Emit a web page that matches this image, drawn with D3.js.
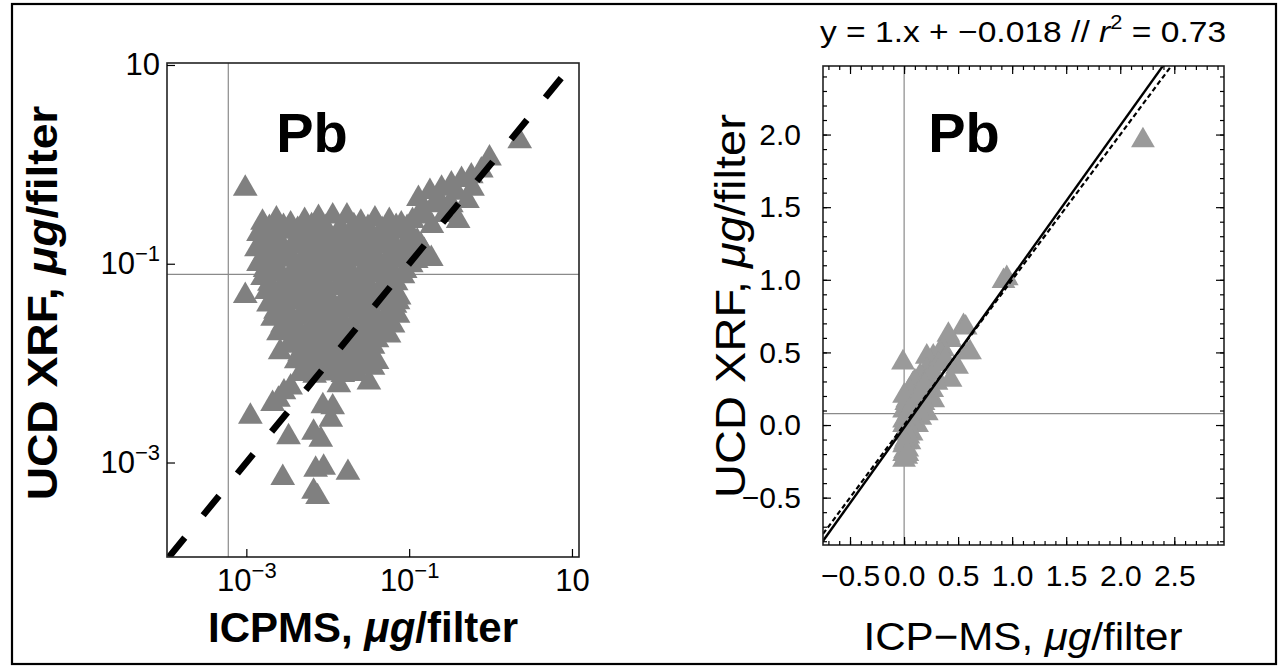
<!DOCTYPE html>
<html><head><meta charset="utf-8">
<script src="https://cdn.jsdelivr.net/npm/d3@7/dist/d3.min.js"></script>
<style>
html,body{margin:0;padding:0;background:#fff;}
text{font-family:"Liberation Sans",Arial,Helvetica,sans-serif;fill:#000;}
</style></head><body>
<svg id="chart" width="1281" height="670"></svg>
<script>
// ---------------- data ----------------
const elementLabel = "Pb";
// left panel (log-log): [ICPMS, UCD XRF] in µg/filter
const logPanelPoints = [
  [0.00097,0.57],[2.28,1.71],[0.97,1.15],[0.00097,0.0475],[0.0026,0.0129],
  [0.00112,0.0029],[0.0021,0.0039],[0.0029,0.0051],[0.00248,0.0043],[0.0035,0.0057],
  [0.0033,0.0018],[0.0028,0.0007],[0.0067,0.0020],[0.0082,0.0017],[0.0087,0.0037],
  [0.0115,0.0036],[0.0071,0.00085],[0.0089,0.00089],[0.0177,0.00079],[0.0067,0.00051],
  [0.0075,0.00045],[0.032,0.0064],[0.0137,0.0060],[0.0109,0.0027],[0.073,0.030],
  [0.187,0.112],[0.049,0.021],[0.073,0.041],[0.153,0.135],[0.122,0.107],
  [0.77,0.87],[0.58,0.76],[0.44,0.70],[0.33,0.63],[0.25,0.57],[0.18,0.53],[0.13,0.45],
  [0.20,0.39],[0.33,0.39],[0.52,0.43],[0.60,0.57],[0.14,0.34],[0.27,0.31],[0.40,0.27],
  [0.11,0.27],[0.19,0.24],[0.23,0.45],[0.38,0.52],[0.16,0.30],
  [0.00158,0.26],[0.00234,0.28],[0.0035,0.25],[0.0052,0.27],[0.0077,0.29],[0.0115,0.30],
  [0.0172,0.30],[0.0255,0.26],[0.038,0.28],[0.057,0.27],[0.080,0.25],
  [0.00192,0.23],[0.00286,0.235],[0.00427,0.22],[0.00634,0.24],[0.00944,0.23],[0.0141,0.225],
  [0.0209,0.24],[0.0312,0.23],[0.0465,0.22],[0.0692,0.235],[0.0944,0.23],
  [0.00141,0.20],[0.0021,0.19],[0.0031,0.21],[0.0046,0.18],[0.0069,0.20],[0.0103,0.19],
  [0.0153,0.21],[0.0228,0.18],[0.034,0.20],[0.051,0.19],[0.075,0.21],[0.106,0.19],
  [0.0017,0.165],[0.00255,0.17],[0.0038,0.16],[0.00566,0.172],[0.00843,0.165],[0.0126,0.16],
  [0.0187,0.168],[0.0278,0.162],[0.0414,0.17],[0.0617,0.165],[0.0893,0.16],[0.1256,0.168],
  [0.00133,0.14],[0.0020,0.15],[0.0029,0.13],[0.0044,0.15],[0.0065,0.14],[0.0097,0.13],
  [0.0145,0.15],[0.0216,0.14],[0.032,0.13],[0.048,0.15],[0.071,0.14],[0.106,0.13],[0.141,0.15],
  [0.00162,0.12],[0.00241,0.125],[0.00359,0.118],[0.00535,0.122],[0.00797,0.12],[0.0119,0.124],
  [0.0177,0.117],[0.0263,0.121],[0.0391,0.12],[0.0584,0.123],[0.0869,0.118],[0.122,0.12],
  [0.00141,0.10],[0.0021,0.095],[0.0031,0.11],[0.0046,0.10],[0.0069,0.092],[0.0103,0.105],
  [0.0153,0.098],[0.0228,0.11],[0.034,0.095],[0.051,0.10],[0.075,0.108],[0.106,0.097],
  [0.0017,0.087],[0.00255,0.085],[0.0038,0.089],[0.00566,0.086],[0.00843,0.088],[0.0126,0.085],
  [0.0187,0.087],[0.0278,0.089],[0.0414,0.086],[0.0617,0.087],[0.0893,0.085],
  [0.00158,0.072],[0.00234,0.078],[0.0035,0.07],[0.0052,0.076],[0.0077,0.071],[0.0115,0.079],
  [0.0172,0.073],[0.0255,0.069],[0.038,0.077],[0.057,0.072],[0.084,0.075],
  [0.00192,0.063],[0.00286,0.061],[0.00427,0.064],[0.00634,0.062],[0.00944,0.063],[0.0141,0.065],
  [0.0209,0.062],[0.0312,0.063],[0.0465,0.061],[0.0692,0.064],
  [0.00177,0.052],[0.0026,0.056],[0.0039,0.05],[0.0058,0.055],[0.0087,0.053],[0.0129,0.057],
  [0.0192,0.051],[0.0286,0.054],[0.0427,0.052],[0.0634,0.056],
  [0.00215,0.045],[0.00321,0.046],[0.00478,0.044],[0.00711,0.046],[0.0106,0.045],[0.0158,0.044],
  [0.0234,0.046],[0.0349,0.045],[0.052,0.044],[0.0753,0.046],
  [0.00187,0.039],[0.0028,0.037],[0.0041,0.041],[0.0062,0.038],[0.0092,0.040],[0.0137,0.036],
  [0.0204,0.039],[0.0303,0.037],[0.0451,0.040],[0.067,0.038],
  [0.00228,0.033],[0.0034,0.032],[0.00506,0.034],[0.00754,0.033],[0.0112,0.032],[0.0167,0.034],
  [0.0248,0.033],[0.037,0.032],[0.0551,0.033],
  [0.0021,0.028],[0.0031,0.026],[0.0046,0.029],[0.0069,0.027],[0.0103,0.028],[0.0153,0.026],
  [0.0228,0.029],[0.034,0.027],[0.0506,0.028],
  [0.00278,0.024],[0.00414,0.023],[0.00617,0.024],[0.00918,0.0235],[0.0137,0.024],[0.0204,0.023],
  [0.0303,0.024],[0.0451,0.0235],[0.0634,0.024],
  [0.00248,0.020],[0.0037,0.021],[0.0055,0.019],[0.0082,0.020],[0.0122,0.021],[0.0182,0.019],
  [0.027,0.020],[0.0403,0.021],[0.0566,0.019],
  [0.0037,0.017],[0.0055,0.0172],[0.0082,0.0168],[0.0122,0.017],[0.0182,0.0173],[0.027,0.0169],[0.0403,0.017],
  [0.0033,0.015],[0.0049,0.014],[0.0073,0.0148],[0.0109,0.014],[0.0162,0.015],[0.0242,0.0142],[0.036,0.0147],
  [0.00451,0.0123],[0.00672,0.0125],[0.0100,0.0121],[0.0149,0.0124],[0.0222,0.0122],[0.033,0.0123],
  [0.0041,0.0105],[0.0062,0.011],[0.0092,0.010],[0.0137,0.0107],[0.0204,0.0102],[0.0303,0.0108],[0.0403,0.0103],
  [0.00535,0.0091],[0.00797,0.0092],[0.0119,0.009],[0.0177,0.0091],[0.0263,0.0092],[0.036,0.009],
  [0.0046,0.0078],[0.0069,0.0075],[0.0103,0.0079],[0.0153,0.0076],[0.0228,0.0078]
];
// right panel (linear): [ICP-MS, UCD XRF] in µg/filter
const linPanelPoints = [
  [2.21,1.96],[0.95,1.01],[0.92,0.99],[0.55,0.68],[0.57,0.67],[0.58,0.50],[0.61,0.50],
  [0.49,0.40],[0.43,0.585],[0.41,0.62],[0.36,0.52],[0.33,0.50],[0.27,0.47],[0.21,0.47],
  [0.21,0.38],[0.29,0.34],[0.43,0.31],[0.30,0.29],[0.26,0.24],[0.27,0.17],[0.21,0.08],
  [0.15,0.34],[0.08,0.28],[0.12,0.22],[0.18,0.15],[0.03,0.17],[-0.01,0.43],[0.06,0.12],
  [0.10,0.08],[0.15,0.05],[0.00,0.10],[0.02,0.05],[0.08,0.02],[0.12,0.00],[0.00,0.00],
  [0.04,-0.03],[0.07,-0.06],[0.00,-0.06],[0.02,-0.10],[0.05,-0.12],[0.00,-0.14],
  [0.03,-0.17],[0.00,-0.20],[0.02,-0.22],[0.00,-0.24],[0.01,-0.18],[0.04,0.08],
  [0.17,0.12],[0.22,0.20],[0.10,0.30],[0.05,0.24],
  [0.02,0.15],[0.00,0.20],[0.03,0.00],[0.05,0.05],[0.00,0.03],[0.02,-0.05],[0.04,-0.08],
  [0.01,-0.12],[0.03,-0.20],[0.06,0.10],[0.13,0.10],[0.09,0.15],[0.16,0.22],[0.20,0.30],
  [0.25,0.35],[0.32,0.42],[0.38,0.45],[0.19,0.27]
];
const logTickValues = [1e-3, 1e-1, 10];
const logTickBase = ["10", "10", "10"];
const logTickExponents = ["−3", "−1", ""];
const linXTicks = [-0.5, 0, 0.5, 1, 1.5, 2, 2.5];
const linYTicks = [-0.5, 0, 0.5, 1, 1.5, 2];
const fitSlope = 1.04, fitIntercept = -0.018, fitR2 = 0.73;
const mdlX = 0.0006, mdlY = 0.078;            // grey reference lines
const logDomainX = [1.06e-4, 12.2], logDomainY = [1.12e-4, 10.47];
const linDomainX = [-0.75, 2.96], linDomainY = [-0.826, 2.472];
const oneToOneLog = [1.12e-4, 7.8];

// ---------------- drawing ----------------
const svg = d3.select("#chart");
svg.append("rect").attr("x",12).attr("y",4).attr("width",1264).attr("height",660)
  .attr("fill","none").attr("stroke","#000").attr("stroke-width",2.2);

function addText(parent, o) {
  const t = parent.append("text")
    .attr("transform", `translate(${o.x},${o.y}) rotate(${o.rot||0}) scale(${o.sx||1},1)`)
    .attr("font-size", o.size).attr("font-weight", o.weight||"normal")
    .attr("text-anchor", o.anchor||"middle");
  let raised = false;
  o.parts.forEach(p => {
    const s = t.append("tspan").text(p.t);
    if (p.italic) s.attr("font-style","italic");
    if (p.sup) { s.attr("font-size", o.size*0.65).attr("dy", -o.size*0.42); raised = true; }
    else if (raised) { s.attr("dy", o.size*0.42); raised = false; }
  });
  return t;
}
function styleAxis(g, size) {
  g.attr("font-size", size).attr("font-family", null).attr("color","#000");
  g.select(".domain").remove();
  g.selectAll(".tick line").attr("stroke-width",1.2);
}
const triL = d3.symbol().type(d3.symbolTriangle).size(265);
const triR = d3.symbol().type(d3.symbolTriangle).size(245);

// ===== Left panel =====
const L = {x0:167, x1:579, y0:63, y1:557};
const xL = d3.scaleLog().domain(logDomainX).range([L.x0, L.x1]);
const yL = d3.scaleLog().domain(logDomainY).range([L.y1, L.y0]);
const gL = svg.append("g");
gL.append("clipPath").attr("id","clipL").append("rect")
  .attr("x",L.x0).attr("y",L.y0).attr("width",L.x1-L.x0).attr("height",L.y1-L.y0);
gL.append("line").attr("x1",xL(mdlX)).attr("x2",xL(mdlX)).attr("y1",L.y0).attr("y2",L.y1)
  .attr("stroke","#8a8a8a").attr("stroke-width",1.2);
gL.append("line").attr("x1",L.x0).attr("x2",L.x1).attr("y1",yL(mdlY)).attr("y2",yL(mdlY))
  .attr("stroke","#8a8a8a").attr("stroke-width",1.2);
gL.append("g").selectAll("path").data(logPanelPoints).join("path")
  .attr("d", triL).attr("transform", d => `translate(${xL(d[0])},${yL(d[1])})`)
  .attr("fill","#808080");
gL.append("line").attr("clip-path","url(#clipL)")
  .attr("x1",xL(oneToOneLog[0])).attr("y1",yL(oneToOneLog[0]))
  .attr("x2",xL(oneToOneLog[1])).attr("y2",yL(oneToOneLog[1]))
  .attr("stroke","#000").attr("stroke-width",6.5).attr("stroke-dasharray","25,29");
gL.append("rect").attr("x",L.x0).attr("y",L.y0).attr("width",L.x1-L.x0).attr("height",L.y1-L.y0)
  .attr("fill","none").attr("stroke","#222").attr("stroke-width",1.6);
function supLabels(g) {
  g.selectAll(".tick text").each(function(d,i){
    const t = d3.select(this); t.text(null);
    t.append("tspan").text(logTickBase[i]);
    if (logTickExponents[i]) t.append("tspan").attr("font-size",22).attr("dy",-13).text(logTickExponents[i]);
  });
}
gL.append("g").attr("transform",`translate(0,${L.y1})`)
  .call(d3.axisBottom(xL).tickValues(logTickValues).tickSize(-8).tickSizeOuter(0).tickPadding(12).tickFormat(()=>""))
  .call(g=>styleAxis(g,31)).call(supLabels);
gL.append("g").attr("transform",`translate(${L.x0},0)`)
  .call(d3.axisLeft(yL).tickValues(logTickValues).tickSize(-8).tickSizeOuter(0).tickPadding(7).tickFormat(()=>""))
  .call(g=>styleAxis(g,31)).call(supLabels);
addText(gL,{x:312,y:152,size:56,weight:"bold",parts:[{t:elementLabel}]});
addText(gL,{x:363,y:642,size:42,weight:"bold",parts:[{t:"ICPMS, "},{t:"μg",italic:true},{t:"/filter"}]});
addText(gL,{x:57,y:303,size:42,weight:"bold",rot:-90,sx:1.1,parts:[{t:"UCD XRF, "},{t:"μg",italic:true},{t:"/filter"}]});

// ===== Right panel =====
const R = {x0:823, x1:1224, y0:66, y1:545};
const xR = d3.scaleLinear().domain(linDomainX).range([R.x0, R.x1]);
const yR = d3.scaleLinear().domain(linDomainY).range([R.y1, R.y0]);
const gR = svg.append("g");
gR.append("clipPath").attr("id","clipR").append("rect")
  .attr("x",R.x0).attr("y",R.y0).attr("width",R.x1-R.x0).attr("height",R.y1-R.y0);
gR.append("line").attr("x1",xR(mdlX)).attr("x2",xR(mdlX)).attr("y1",R.y0).attr("y2",R.y1)
  .attr("stroke","#8a8a8a").attr("stroke-width",1.2);
gR.append("line").attr("x1",R.x0).attr("x2",R.x1).attr("y1",yR(mdlY)).attr("y2",yR(mdlY))
  .attr("stroke","#8a8a8a").attr("stroke-width",1.2);
gR.append("g").attr("clip-path","url(#clipR)").selectAll("path").data(linPanelPoints).join("path")
  .attr("d", triR).attr("transform", d => `translate(${xR(d[0])},${yR(d[1])})`)
  .attr("fill","#9a9a9a");
gR.append("line").attr("clip-path","url(#clipR)")
  .attr("x1",xR(linDomainX[0])).attr("y1",yR(linDomainX[0]))
  .attr("x2",xR(linDomainX[1])).attr("y2",yR(linDomainX[1]))
  .attr("stroke","#000").attr("stroke-width",2.2).attr("stroke-dasharray","5,3");
gR.append("line").attr("clip-path","url(#clipR)")
  .attr("x1",xR(linDomainX[0])).attr("y1",yR(fitSlope*linDomainX[0]+fitIntercept))
  .attr("x2",xR(linDomainX[1])).attr("y2",yR(fitSlope*linDomainX[1]+fitIntercept))
  .attr("stroke","#000").attr("stroke-width",2.4);
gR.append("rect").attr("x",R.x0).attr("y",R.y0).attr("width",R.x1-R.x0).attr("height",R.y1-R.y0)
  .attr("fill","none").attr("stroke","#222").attr("stroke-width",1.6);
const fmt1 = d3.format(".1f");
const minorX = xR.ticks(40), minorY = yR.ticks(35);
// bottom
gR.append("g").attr("transform",`translate(0,${R.y1})`)
  .call(d3.axisBottom(xR).tickValues(minorX).tickSize(-4).tickSizeOuter(0).tickFormat(()=>"")).call(g=>styleAxis(g,30));
gR.append("g").attr("transform",`translate(0,${R.y1})`)
  .call(d3.axisBottom(xR).tickValues(linXTicks).tickSize(-8).tickSizeOuter(0).tickPadding(20).tickFormat(fmt1)).call(g=>styleAxis(g,30));
// top
gR.append("g").attr("transform",`translate(0,${R.y0})`)
  .call(d3.axisTop(xR).tickValues(minorX).tickSize(-4).tickSizeOuter(0).tickFormat(()=>"")).call(g=>styleAxis(g,30));
gR.append("g").attr("transform",`translate(0,${R.y0})`)
  .call(d3.axisTop(xR).tickValues(linXTicks).tickSize(-8).tickSizeOuter(0).tickFormat(()=>"")).call(g=>styleAxis(g,30));
// left
gR.append("g").attr("transform",`translate(${R.x0},0)`)
  .call(d3.axisLeft(yR).tickValues(minorY).tickSize(-4).tickSizeOuter(0).tickFormat(()=>"")).call(g=>styleAxis(g,30));
gR.append("g").attr("transform",`translate(${R.x0},0)`)
  .call(d3.axisLeft(yR).tickValues(linYTicks).tickSize(-8).tickSizeOuter(0).tickPadding(22).tickFormat(fmt1)).call(g=>styleAxis(g,30));
// right
gR.append("g").attr("transform",`translate(${R.x1},0)`)
  .call(d3.axisRight(yR).tickValues(minorY).tickSize(-4).tickSizeOuter(0).tickFormat(()=>"")).call(g=>styleAxis(g,30));
gR.append("g").attr("transform",`translate(${R.x1},0)`)
  .call(d3.axisRight(yR).tickValues(linYTicks).tickSize(-8).tickSizeOuter(0).tickFormat(()=>"")).call(g=>styleAxis(g,30));
addText(gR,{x:964,y:152,size:56,weight:"bold",parts:[{t:elementLabel}]});
addText(gR,{x:1023,y:42,size:30,sx:1.12,parts:[{t:"y = 1.x + −0.018 // "},{t:"r",italic:true},{t:"2",sup:true},{t:" = "+fitR2.toFixed(2)}]});
addText(gR,{x:1023,y:650,size:39,sx:1.08,parts:[{t:"ICP−MS, "},{t:"μg",italic:true},{t:"/filter"}]});
addText(gR,{x:745,y:306,size:42,sx:1.12,rot:-90,parts:[{t:"UCD XRF, "},{t:"μg",italic:true},{t:"/filter"}]});
</script>
</body></html>
